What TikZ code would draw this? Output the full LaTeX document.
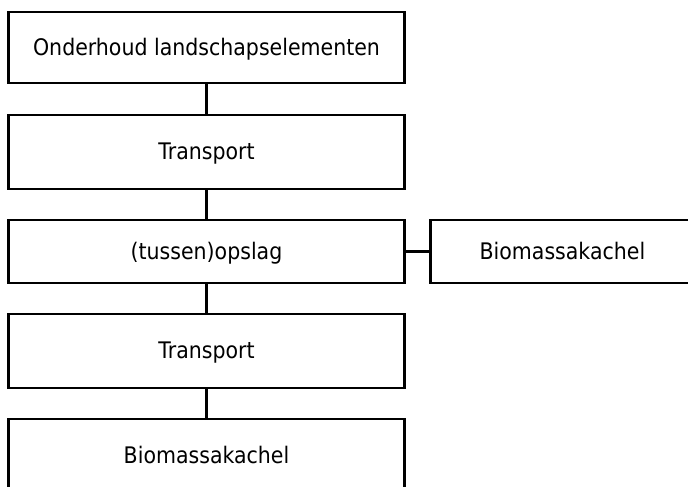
\documentclass[tikz,border=0pt]{standalone}
\usepackage{fontspec}
\setmainfont{DejaVu Sans}[FakeStretch=0.9]
\usetikzlibrary{positioning}

\begin{document}
\begin{tikzpicture}[x=1pt, y=-1pt, node distance=28.5pt, every node/.style={font=\fontsize{22.8}{27}\selectfont}]
\tikzset{blok/.style={draw, line width=2.5pt, minimum width=396pt, inner sep=0pt, text height=16pt, text depth=0pt}}
\useasboundingbox (0,0) rectangle (688,487);
\clip (0,0) rectangle (688,487);
\node[blok, minimum height=71pt] (onderhoud) at (206.5,47.5) {Onderhoud landschapselementen};
\node[blok, minimum height=74pt, below=29.4pt of onderhoud] (transport1) {Transport};
\node[blok, minimum height=63pt, below=of transport1] (opslag) {(tussen)opslag};
\node[blok, minimum height=74pt, below=of opslag] (transport2) {Transport};
\node[blok, minimum height=74pt, below=of transport2] (kachel) {Biomassakachel};
\node[blok, minimum height=63pt, minimum width=264pt, right=23.4pt of opslag] (kachelrechts) {Biomassakachel};
\draw[line width=2.5pt] (onderhoud) -- (transport1);
\draw[line width=2.5pt] (transport1) -- (opslag);
\draw[line width=2.5pt] (opslag) -- (transport2);
\draw[line width=2.5pt] (transport2) -- (kachel);
\draw[line width=2.5pt] (opslag) -- (kachelrechts);
\end{tikzpicture}
\end{document}
